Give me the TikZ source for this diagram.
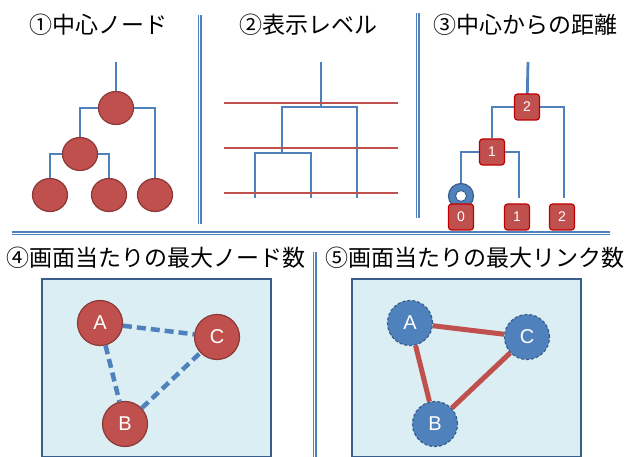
\documentclass[tikz,border=0pt]{standalone}
\usepackage{fontspec}
\setmainfont{Liberation Sans}
\newfontfamily\jp{Noto Sans CJK JP}
\usetikzlibrary{shapes.geometric,backgrounds}
\definecolor{nred}{HTML}{C0504D}
\definecolor{nredb}{HTML}{8C3836}
\definecolor{lblue}{HTML}{4F81BD}
\definecolor{dblue}{HTML}{385D8A}
\definecolor{bgblue}{HTML}{DAEEF3}
\definecolor{bred}{HTML}{C00000}
\begin{document}
\begin{tikzpicture}[x=1pt,y=-1pt,
 title/.style={font=\jp\fontsize{23}{23}\selectfont, inner sep=0pt},
 tline/.style={draw=lblue, line width=2.8pt},
 rline/.style={draw=nred, line width=2.8pt},
 tnode/.style={ellipse, fill=nred, draw=nredb, line width=1.2pt, minimum width=35pt, minimum height=33pt, inner sep=0pt},
 dbox/.style={rectangle, rounded corners=3pt, fill=nred, draw=bred, line width=1.2pt, minimum width=25pt, minimum height=26pt, inner sep=0pt, text=white, font=\fontsize{14}{14}\selectfont},
 sep/.style={draw=lblue, double=white, double distance=1.8pt, line width=1.1pt},
 panel/.style={fill=bgblue, draw=dblue, line width=1.5pt},
 cnode/.style={circle, minimum size=45pt, inner sep=0pt, text=white, font=\fontsize{20}{20}\selectfont, line width=1.2pt},
 rcirc/.style={cnode, fill=nred, draw=nredb},
 bcirc/.style={cnode, fill=lblue, draw=dblue, dash pattern=on 3pt off 2pt},
 dline/.style={draw=lblue, line width=4.5pt, dash pattern=on 9pt off 5pt},
 sline/.style={draw=nred, line width=5pt},
]
\useasboundingbox (0,0) rectangle (630,457);

% titles
\node[title] (t1) at (99,25) {①中心ノード};
\node[title] (t2) at (308,25) {②表示レベル};
\node[title] (t3) at (525,25) {③中心からの距離};
\node[title] (t4) at (156,258) {④画面当たりの最大ノード数};
\node[title] (t5) at (475,258) {⑤画面当たりの最大リンク数};

% separators
\draw[sep] (199.5,15) -- (199.5,224);
\draw[sep] (417.5,13) -- (417.5,218);
\draw[sep] (12,233.5) -- (610,233.5);
\draw[sep] (314.5,252) -- (314.5,457);

% section 1
\node[tnode] (a0) at (116,108) {};
\node[tnode] (a1) at (80,154) {};
\node[tnode] (a2) at (50,195) {};
\node[tnode] (a3) at (109,195) {};
\node[tnode] (a4) at (155,195) {};
\coordinate (a0top) at (116,62);
\begin{pgfonlayer}{background}
\draw[tline] (a0top) -- (a0.center);
\draw[tline] (a1) |- (a0.center) -| (a4);
\draw[tline] (a2) |- (a1.center) -| (a3);
\end{pgfonlayer}

% section 2
\coordinate (b0) at (321,62);
\coordinate (b1) at (321,107);
\coordinate (bl) at (282,153);
\coordinate (br) at (357,198);
\coordinate (bll) at (255,198);
\coordinate (blr) at (311,198);
\draw[tline] (b0) -- (b1);
\draw[tline] (bl) |- (b1) -| (br);
\draw[tline] (bll) |- (bl) -| (blr);
\draw[rline] (224,103) -- (398,103);
\draw[rline] (224,148) -- (398,148);
\draw[rline] (224,193) -- (398,193);

% section 3
\node[circle, fill=lblue, draw=dblue, line width=1.2pt, minimum size=25pt, inner sep=0pt] (ring) at (461,196) {};
\node[circle, fill=white, draw=dblue, line width=1pt, minimum size=11pt, inner sep=0pt] (ringin) at (461,196) {};
\node[dbox] (c0) at (527,107) {2};
\node[dbox] (c1) at (492,152) {1};
\node[dbox] (d0) at (461,217) {0};
\node[dbox] (d1) at (517,217) {1};
\node[dbox] (d2) at (562,217) {2};
\coordinate (c0top) at (528,62);
\coordinate (e1) at (519,198);
\coordinate (e2) at (564,198);
\begin{pgfonlayer}{background}
\draw[tline] (c0top) -- (c0.center);
\draw[tline] (c1) |- (c0.center) -| (e2);
\draw[tline] (ring) |- (c1.center) -| (e1);
\end{pgfonlayer}

% section 4
\draw[panel] (42,279) rectangle (271,457);
\node[rcirc] (A4) at (100,323) {A};
\node[rcirc] (C4) at (217,337) {C};
\node[rcirc] (B4) at (125,424) {B};
\draw[dline] (A4) -- (C4);
\draw[dline] (A4) -- (B4);
\draw[dline] (B4) -- (C4);

% section 5
\draw[panel] (352,279) rectangle (581,457);
\node[bcirc] (A5) at (410,323) {A};
\node[bcirc] (C5) at (527,337) {C};
\node[bcirc] (B5) at (435,424) {B};
\draw[sline] (A5) -- (C5);
\draw[sline] (A5) -- (B5);
\draw[sline] (B5) -- (C5);
\end{tikzpicture}
\end{document}
